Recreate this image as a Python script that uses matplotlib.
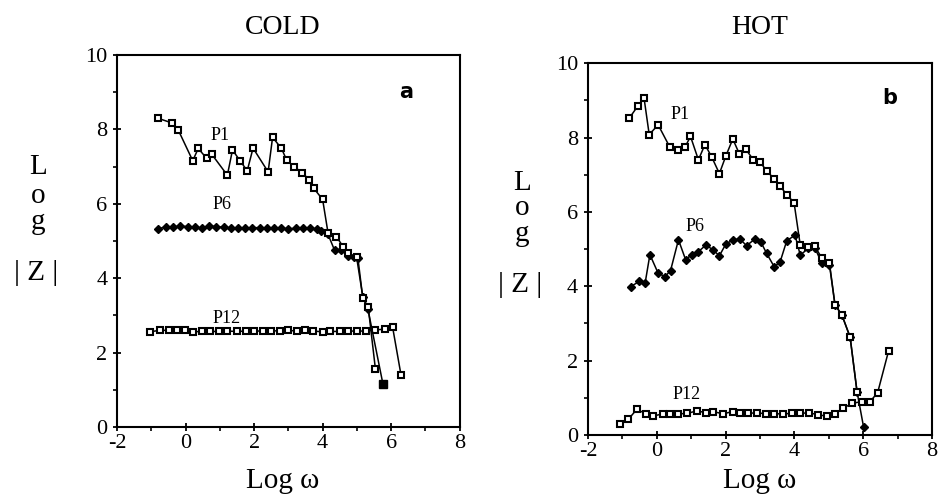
import matplotlib
matplotlib.use("Agg")
import matplotlib.pyplot as plt
from matplotlib.ticker import MultipleLocator

plt.rcParams['font.family'] = ['Liberation Serif', 'DejaVu Serif']
plt.rcParams['axes.unicode_minus'] = False

# --- COLD (a) ---
cold_p1_x = [-0.80, -0.41, -0.21, 0.21, 0.37, 0.62, 0.76, 1.22, 1.37, 1.59, 1.80, 1.97,
             2.41, 2.54, 2.80, 2.95, 3.16, 3.41, 3.61, 3.74, 4.00, 4.16, 4.40, 4.60,
             4.74, 4.99, 5.18, 5.33, 5.54]
cold_p1_y = [8.30, 8.18, 7.98, 7.16, 7.49, 7.22, 7.34, 6.77, 7.45, 7.16, 6.89, 7.50,
             6.86, 7.79, 7.49, 7.18, 7.00, 6.84, 6.64, 6.42, 6.12, 5.21, 5.12, 4.85,
             4.67, 4.58, 3.46, 3.23, 1.57]

cold_p6_x = [-0.80, -0.58, -0.36, -0.15, 0.06, 0.27, 0.48, 0.69, 0.90, 1.11, 1.32, 1.53,
             1.74, 1.95, 2.16, 2.37, 2.58, 2.79, 3.00, 3.21, 3.42, 3.63, 3.84, 3.96,
             4.15, 4.35, 4.54, 4.73, 4.93, 5.03, 5.17, 5.32, 5.76]
cold_p6_y = [5.33, 5.38, 5.38, 5.40, 5.39, 5.38, 5.34, 5.40, 5.39, 5.37, 5.34, 5.35,
             5.35, 5.36, 5.36, 5.35, 5.35, 5.34, 5.33, 5.34, 5.34, 5.34, 5.33, 5.27,
             5.20, 4.75, 4.75, 4.61, 4.57, 4.54, 3.49, 3.18, 1.16]

cold_p12_x = [-1.04, -0.75, -0.47, -0.24, -0.02, 0.22, 0.47, 0.71, 0.98, 1.22, 1.49, 1.76,
              1.99, 2.25, 2.48, 2.75, 2.99, 3.24, 3.48, 3.72, 4.00, 4.23, 4.50, 4.74,
              4.99, 5.26, 5.52, 5.81, 6.04, 6.29]
cold_p12_y = [2.56, 2.60, 2.60, 2.61, 2.61, 2.56, 2.57, 2.57, 2.57, 2.58, 2.57, 2.58,
              2.57, 2.59, 2.58, 2.59, 2.60, 2.58, 2.60, 2.58, 2.56, 2.57, 2.57, 2.58,
              2.58, 2.58, 2.61, 2.63, 2.70, 1.39]

# --- HOT (b) ---
hot_p1_x = [-0.80, -0.54, -0.37, -0.22, 0.04, 0.38, 0.63, 0.82, 0.98, 1.21, 1.40, 1.60,
            1.82, 2.01, 2.21, 2.40, 2.58, 2.81, 3.00, 3.20, 3.41, 3.58, 3.78, 3.99,
            4.17, 4.41, 4.60, 4.80, 5.02, 5.18, 5.38, 5.62, 5.82]
hot_p1_y = [8.52, 8.86, 9.06, 8.08, 8.34, 7.74, 7.67, 7.74, 8.03, 7.40, 7.81, 7.47,
            7.03, 7.51, 7.96, 7.56, 7.69, 7.40, 7.33, 7.11, 6.88, 6.70, 6.46, 6.25,
            5.11, 5.05, 5.07, 4.75, 4.62, 3.50, 3.23, 2.63, 1.17]

hot_p6_x = [-0.76, -0.51, -0.34, -0.20, 0.04, 0.24, 0.40, 0.63, 0.84, 1.01, 1.21, 1.43,
            1.63, 1.82, 2.01, 2.23, 2.42, 2.61, 2.85, 3.02, 3.19, 3.41, 3.58, 3.78,
            4.02, 4.17, 4.41, 4.60, 4.80, 5.02, 5.18, 5.38, 5.62, 5.82, 6.01]
hot_p6_y = [3.99, 4.13, 4.08, 4.85, 4.35, 4.26, 4.42, 5.25, 4.71, 4.85, 4.93, 5.11,
            4.98, 4.82, 5.14, 5.25, 5.27, 5.09, 5.27, 5.20, 4.89, 4.53, 4.64, 5.23,
            5.37, 4.84, 5.02, 5.02, 4.62, 4.57, 3.50, 3.23, 2.63, 1.17, 0.22]

hot_p12_x = [-1.07, -0.83, -0.58, -0.31, -0.10, 0.17, 0.38, 0.63, 0.89, 1.16, 1.43, 1.64,
             1.92, 2.21, 2.42, 2.66, 2.90, 3.17, 3.41, 3.66, 3.92, 4.16, 4.43, 4.70,
             4.94, 5.18, 5.42, 5.67, 5.96, 6.20, 6.42, 6.74]
hot_p12_y = [0.30, 0.42, 0.69, 0.57, 0.51, 0.57, 0.57, 0.57, 0.58, 0.65, 0.60, 0.63,
             0.57, 0.63, 0.58, 0.58, 0.60, 0.57, 0.57, 0.57, 0.58, 0.58, 0.60, 0.54,
             0.51, 0.57, 0.72, 0.85, 0.90, 0.90, 1.14, 2.27]

sq = dict(color='black', lw=1.1, marker='s', ms=4.8, mfc='white', mec='black', mew=1.5)
dm = dict(color='black', lw=1.1, marker='D', ms=4, mfc='black', mec='black')

fig = plt.figure(figsize=(9.4, 5.01), dpi=100)
ax1 = fig.add_axes([0.1245, 0.1477, 0.3645, 0.7423])
ax2 = fig.add_axes([0.6255, 0.1317, 0.366, 0.7423])

ax1.plot(cold_p12_x, cold_p12_y, **sq)
ax1.plot(cold_p6_x, cold_p6_y, **dm)
ax1.plot(cold_p1_x, cold_p1_y, **sq)
ax1.plot([cold_p6_x[-1]], [cold_p6_y[-1]], marker='s', ms=6, color='black', ls='none')

ax2.plot(hot_p12_x, hot_p12_y, **sq)
ax2.plot(hot_p6_x, hot_p6_y, **dm)
ax2.plot(hot_p1_x, hot_p1_y, **sq)

for ax in (ax1, ax2):
    ax.set_xlim(-2, 8)
    ax.set_ylim(0, 10)
    ax.xaxis.set_major_locator(MultipleLocator(2))
    ax.xaxis.set_minor_locator(MultipleLocator(1))
    ax.yaxis.set_major_locator(MultipleLocator(2))
    ax.yaxis.set_minor_locator(MultipleLocator(1))
    ax.tick_params(which='major', direction='inout', length=6, width=1.3,
                   labelsize=16, pad=2)
    ax.tick_params(axis='y', which='major', pad=4)
    ax.tick_params(which='minor', direction='out', length=3, width=1.2)
    for s in ax.spines.values():
        s.set_linewidth(1.5)

ax1.text(1.0, 7.85, 'P1', fontsize=13, ha='center', va='center')
ax1.text(1.06, 5.97, 'P6', fontsize=13, ha='center', va='center')
ax1.text(1.2, 2.93, 'P12', fontsize=13, ha='center', va='center')
ax1.text(6.45, 9.0, 'a', fontsize=15, fontweight='bold', ha='center', va='center',
         family='DejaVu Sans')

ax2.text(0.67, 8.61, 'P1', fontsize=13, ha='center', va='center')
ax2.text(1.11, 5.6, 'P6', fontsize=13, ha='center', va='center')
ax2.text(0.88, 1.08, 'P12', fontsize=13, ha='center', va='center')
ax2.text(6.78, 9.07, 'b', fontsize=15, fontweight='bold', ha='center', va='center',
         family='DejaVu Sans')

W, H = 940.0, 501.0
def ftext(x, y, s, size):
    fig.text(x / W, 1 - y / H, s, fontsize=size, ha='center', va='center')

ftext(283, 27, 'COLD', 20)
ftext(760, 28, 'HOT', 20)
ftext(283, 481, 'Log ω', 21)
ftext(760, 481, 'Log ω', 21)

for cx, ys in ((38, (167, 196, 222, 273)), (522, (183, 208, 234, 285))):
    ftext(cx, ys[0], 'L', 21)
    ftext(cx, ys[1], 'o', 21)
    ftext(cx, ys[2], 'g', 21)
    ftext(cx - 2, ys[3], '| Z |', 21)

fig.savefig('out.png', dpi=100)
